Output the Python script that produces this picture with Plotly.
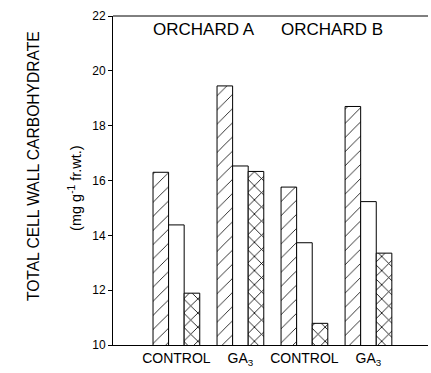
import plotly.graph_objects as go

groups = ["CONTROL", "GA<sub>3</sub>", "CONTROL", "GA<sub>3</sub>"]
orchards = ["ORCHARD A", "ORCHARD B"]
orchard_x = [0.43, 2.43]
series_hatched = [16.3, 19.45, 15.76, 18.7]
series_open = [14.38, 16.53, 13.73, 15.23]
series_cross = [11.89, 16.33, 10.79, 13.35]
y_ticks = [10, 12, 14, 16, 18, 20, 22]

xpos = list(range(len(groups)))
font = "Liberation Sans, Arial, sans-serif"

fig = go.Figure()
fig.add_bar(x=xpos, y=series_hatched,
            marker=dict(color="white", line=dict(color="black", width=1),
                        pattern=dict(shape="/", fgcolor="black", bgcolor="white",
                                     fgopacity=1, size=10, solidity=0.08)))
fig.add_bar(x=xpos, y=series_open,
            marker=dict(color="white", line=dict(color="black", width=1)))
fig.add_bar(x=xpos, y=series_cross,
            marker=dict(color="white", line=dict(color="black", width=1),
                        pattern=dict(shape="x", fgcolor="black", bgcolor="white",
                                     fgopacity=1, size=10, solidity=0.16)))

fig.update_layout(
    width=431, height=373,
    margin=dict(l=113, r=3, t=16, b=28),
    paper_bgcolor="white", plot_bgcolor="white",
    barmode="group", bargap=0.27, bargroupgap=0,
    showlegend=False,
    font=dict(family=font, color="black", size=12),
    xaxis=dict(range=[-0.99, 3.93], tickvals=xpos, ticktext=groups,
               showline=True, linecolor="black", linewidth=1, ticks="",
               showgrid=False, zeroline=False, tickfont=dict(size=14)),
    yaxis=dict(range=[10, 22], tickvals=y_ticks, showline=True, linecolor="black",
               linewidth=1, ticks="outside", ticklen=4, tickcolor="black",
               showgrid=False, zeroline=False, tickfont=dict(size=12)),
)
fig.add_shape(type="line", xref="paper", yref="paper", x0=0, x1=1, y0=1, y1=1,
              line=dict(color="black", width=1))
fig.add_annotation(text="TOTAL CELL WALL CARBOHYDRATE", xref="paper", yref="paper",
                   x=-0.286, y=0.545, textangle=-90, showarrow=False,
                   font=dict(size=15.6))
fig.add_annotation(text="(mg g<sup>-1</sup> fr.wt.)", xref="paper", yref="paper",
                   x=-0.156, y=0.477, textangle=-90, showarrow=False,
                   font=dict(size=14.5))
for name, ox in zip(orchards, orchard_x):
    fig.add_annotation(text=name, x=ox, y=21.5, xref="x", yref="y",
                       showarrow=False, font=dict(size=17))

fig.write_html("out.html", config={"displayModeBar": False},
               post_script="document.body.style.margin='0';document.body.style.overflow='hidden';")
